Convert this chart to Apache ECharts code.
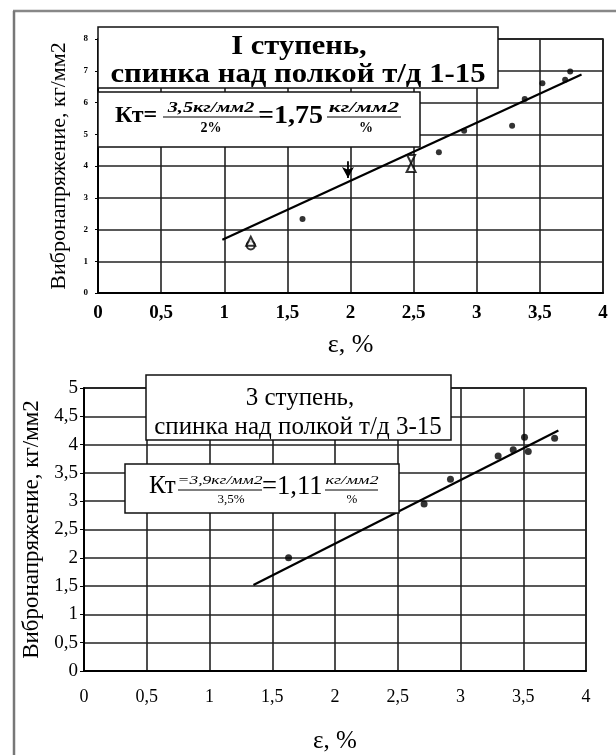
<!DOCTYPE html>
<html><head><meta charset="utf-8">
<script src="https://cdn.jsdelivr.net/npm/echarts@6/dist/echarts.min.js"></script>
<style>html,body{margin:0;padding:0;background:#fff}#c{width:616px;height:755px}</style>
</head><body><div id="c"></div>
<script>
// ---- data: chart 1 (I ступень) ----
const topXTicks = [0, 0.5, 1, 1.5, 2, 2.5, 3, 3.5, 4];
const topYTicks = [0, 1, 2, 3, 4, 5, 6, 7, 8];
const topDotsX = [1.62, 2.70, 2.90, 3.28, 3.38, 3.52, 3.70, 3.74];
const topDotsY = [2.33, 4.43, 5.11, 5.27, 6.11, 6.61, 6.72, 6.98];
const topCircleX = [1.21];
const topCircleY = [1.50];
const topTriX = [1.21, 2.48];
const topTriY = [1.63, 3.95];
const topInvTriX = [2.48];
const topInvTriY = [4.22];
const topArrowX = [1.98, 1.98];
const topArrowY = [4.15, 3.62];
const topTrendX = [0.985, 3.83];
const topTrendY = [1.68, 6.88];
// ---- data: chart 2 (3 ступень) ----
const botXTicks = [0, 0.5, 1, 1.5, 2, 2.5, 3, 3.5, 4];
const botYTicks = [0, 0.5, 1, 1.5, 2, 2.5, 3, 3.5, 4, 4.5, 5];
const botDotsX = [1.63, 2.71, 2.92, 3.30, 3.42, 3.51, 3.54, 3.75];
const botDotsY = [2.00, 2.95, 3.39, 3.80, 3.91, 4.13, 3.88, 4.11];
const botTrendX = [1.35, 3.78];
const botTrendY = [1.52, 4.25];

const SERIF = '"Liberation Serif", "DejaVu Serif", serif';
const zip = (xs, ys) => xs.map((x, i) => [x, ys[i]]);
const comma = v => String(v).replace('.', ',');

const chart = echarts.init(document.getElementById('c'), null, {renderer: 'canvas'});

function txt(text, x, y, font, align, sx) {
  return {
    type: 'text', z: 120, x: x, y: y, scaleX: sx || 1, scaleY: 1,
    style: {text: text, x: 0, y: 0, font: font, fill: '#000',
      align: align || 'center', textAlign: align || 'center',
      verticalAlign: 'middle', textVerticalAlign: 'middle'}
  };
}
function ln(x1, y1, x2, y2, w, c) {
  return {type: 'line', z: 120, shape: {x1: x1, y1: y1, x2: x2, y2: y2},
    style: {stroke: c || '#000', lineWidth: w || 1}};
}
function box(x, y, w, h) {
  return {type: 'rect', z: 110, shape: {x: x, y: y, width: w, height: h},
    style: {fill: '#fff', stroke: '#111', lineWidth: 1.5}};
}

const gridLine = {show: true, lineStyle: {color: '#222', width: 1.6}};

const option = {
  backgroundColor: '#fff',
  animation: false,
  grid: [
    {left: 98, right: 13, top: 39, height: 254, show: true, borderColor: '#000', borderWidth: 1.5},
    {left: 84, right: 30, top: 388, height: 299, show: true, borderColor: '#000', borderWidth: 1.5}
  ],
  xAxis: [
    {gridIndex: 0, type: 'value', min: topXTicks[0], max: topXTicks[topXTicks.length - 1], interval: 0.5,
      name: 'ε, %', nameLocation: 'middle', nameGap: 39,
      nameTextStyle: {fontFamily: SERIF, fontSize: 26, color: '#000'},
      axisLine: {show: true, onZero: false, lineStyle: {color: '#000', width: 2}},
      axisTick: {show: false},
      axisLabel: {formatter: comma, fontFamily: SERIF, fontWeight: 'bold', fontSize: 19, color: '#000', margin: 11},
      splitLine: gridLine},
    {gridIndex: 1, type: 'value', min: botXTicks[0], max: botXTicks[botXTicks.length - 1], interval: 0.5,
      name: 'ε, %', nameLocation: 'middle', nameGap: 58,
      nameTextStyle: {fontFamily: SERIF, fontSize: 25, color: '#000'},
      axisLine: {show: true, onZero: false, lineStyle: {color: '#000', width: 2}},
      axisTick: {show: false},
      axisLabel: {formatter: comma, fontFamily: SERIF, fontSize: 18, color: '#000', margin: 17},
      splitLine: gridLine}
  ],
  yAxis: [
    {gridIndex: 0, type: 'value', min: topYTicks[0], max: topYTicks[topYTicks.length - 1], interval: 1,
      name: 'Вибронапряжение, кг/мм2', nameLocation: 'middle', nameGap: 28,
      nameTextStyle: {fontFamily: SERIF, fontSize: 22, color: '#000'},
      axisLine: {show: true, onZero: false, lineStyle: {color: '#000', width: 2}},
      axisTick: {show: true, length: 3, lineStyle: {color: '#000'}},
      axisLabel: {fontFamily: SERIF, fontWeight: 'bold', fontSize: 9, color: '#000', margin: 10},
      splitLine: gridLine},
    {gridIndex: 1, type: 'value', min: botYTicks[0], max: botYTicks[botYTicks.length - 1], interval: 0.5,
      name: 'Вибронапряжение, кг/мм2', nameLocation: 'middle', nameGap: 38,
      nameTextStyle: {fontFamily: SERIF, fontSize: 23, color: '#000'},
      axisLine: {show: true, onZero: false, lineStyle: {color: '#000', width: 2}},
      axisTick: {show: true, length: 4, lineStyle: {color: '#000'}},
      axisLabel: {formatter: comma, fontFamily: SERIF, fontSize: 19, color: '#000', margin: 6},
      splitLine: gridLine}
  ],
  series: [
    {type: 'line', xAxisIndex: 0, yAxisIndex: 0, data: zip(topTrendX, topTrendY), symbol: 'none',
      lineStyle: {color: '#000', width: 2.2}, z: 5},
    {type: 'line', xAxisIndex: 0, yAxisIndex: 0,
      data: zip(topArrowX, topArrowY).map((p, i) => i === 0 ? {value: p, symbol: 'none'} :
        {value: p, symbol: 'arrow', symbolRotate: 180, symbolSize: [9, 11]}),
      lineStyle: {color: '#000', width: 1.8}, itemStyle: {color: '#000'}, z: 6},
    {type: 'scatter', xAxisIndex: 0, yAxisIndex: 0, data: zip(topDotsX, topDotsY), symbol: 'circle', symbolSize: 6,
      itemStyle: {color: '#000'}, z: 7},
    {type: 'scatter', xAxisIndex: 0, yAxisIndex: 0, data: zip(topCircleX, topCircleY), symbol: 'emptyCircle', symbolSize: 8,
      itemStyle: {color: '#000', borderColor: '#000', borderWidth: 2}, z: 7},
    {type: 'scatter', xAxisIndex: 0, yAxisIndex: 0, data: zip(topTriX, topTriY), symbol: 'emptyTriangle', symbolSize: 9,
      itemStyle: {color: '#000', borderColor: '#000', borderWidth: 1.8}, z: 7},
    {type: 'scatter', xAxisIndex: 0, yAxisIndex: 0, data: zip(topInvTriX, topInvTriY), symbol: 'emptyTriangle', symbolRotate: 180, symbolSize: 8,
      itemStyle: {color: '#000', borderColor: '#000', borderWidth: 1.8}, z: 7},
    {type: 'line', xAxisIndex: 1, yAxisIndex: 1, data: zip(botTrendX, botTrendY), symbol: 'none',
      lineStyle: {color: '#000', width: 2.2}, z: 5},
    {type: 'scatter', xAxisIndex: 1, yAxisIndex: 1, data: zip(botDotsX, botDotsY), symbol: 'circle', symbolSize: 7,
      itemStyle: {color: '#000'}, z: 7}
  ],
  graphic: [
    // outer frame
    ln(13, 11, 616, 11, 2.5, '#888'),
    ln(14, 11, 14, 755, 2.5, '#777'),
    // chart 1 title box
    box(98, 27, 400, 61),
    txt('I ступень,', 299, 47, 'bold 27px ' + SERIF, 'center', 1.13),
    txt('спинка над полкой т/д 1-15', 298, 75, 'bold 27px ' + SERIF, 'center', 1.14),
    // chart 1 Kt box
    box(98, 92, 322, 55),
    txt('Кт=', 115, 116, 'bold 24px ' + SERIF, 'left'),
    txt('3,5кг/мм2', 211, 108, 'italic bold 15px ' + SERIF, 'center', 1.35),
    ln(163, 117, 259, 117, 1.2),
    txt('2%', 211, 128, 'bold 14px ' + SERIF),
    txt('=1,75', 258, 116, 'bold 26px ' + SERIF, 'left', 1.08),
    txt('кг/мм2', 364, 108, 'italic bold 15px ' + SERIF, 'center', 1.55),
    ln(327, 117, 401, 117, 1.2),
    txt('%', 366, 128, 'bold 14px ' + SERIF),
    // chart 2 title box
    box(146, 375, 305, 65),
    txt('3 ступень,', 300, 398, '25px ' + SERIF),
    txt('спинка над полкой т/д 3-15', 298, 427, '25px ' + SERIF),
    // chart 2 Kt box
    box(125, 464, 274, 49),
    txt('Кт', 149, 486, '25px ' + SERIF, 'left'),
    txt('=3,9кг/мм2', 220, 481, 'italic 13px ' + SERIF, 'center', 1.35),
    ln(178, 490, 262, 490, 1),
    txt('3,5%', 231, 500, '13px ' + SERIF),
    txt('=1,11', 262, 487, '28px ' + SERIF, 'left', 0.95),
    txt('кг/мм2', 352, 481, 'italic 13px ' + SERIF, 'center', 1.4),
    ln(325, 490, 378, 490, 1),
    txt('%', 352, 500, '13px ' + SERIF)
  ]
};
chart.setOption(option);
</script></body></html>
